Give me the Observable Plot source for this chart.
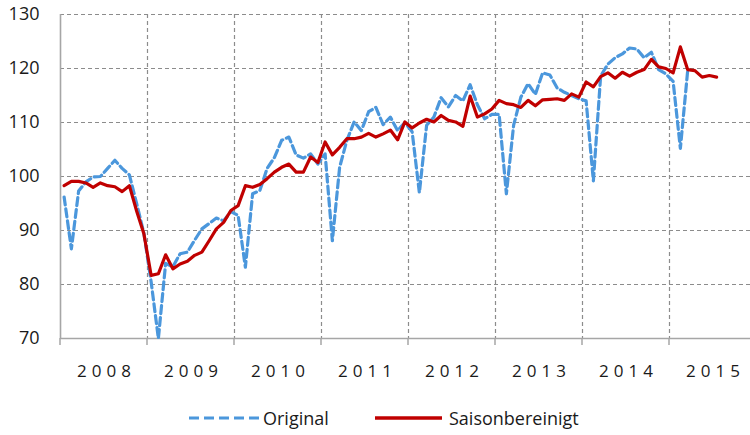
<!DOCTYPE html>
<html>
<head>
<meta charset="utf-8">
<script src="https://cdn.jsdelivr.net/npm/d3@7"></script>
<script src="https://cdn.jsdelivr.net/npm/@observablehq/plot@0.6"></script>
<style>
  html, body { margin: 0; padding: 0; background: #fff; }
  #chart svg { display: block; }
  #legend { position: relative; width: 750px; height: 40px; font-family: "Open Sans", sans-serif; font-size: 18px; color: #1a1a1a; }
  #legend .sw { position: absolute; top: 19px; }
  #legend .lb { position: absolute; top: 11px; line-height: 24px; }
</style>
</head>
<body>
<div id="chart"></div>
<div id="legend">
  <svg class="sw" style="left:188px" width="72" height="8"><line x1="1" y1="4" x2="71" y2="4" stroke="#4b97dc" stroke-width="3.2" stroke-dasharray="10,5"/></svg>
  <span class="lb" style="left:263px">Original</span>
  <svg class="sw" style="left:375px" width="68" height="8"><line x1="0" y1="4" x2="67" y2="4" stroke="#c00000" stroke-width="3.4"/></svg>
  <span class="lb" style="left:449px">Saisonbereinigt</span>
</div>
<script>
// Monthly series, starting January 2008
const startYear = 2008;
const years = [2008, 2009, 2010, 2011, 2012, 2013, 2014, 2015];
const yTicks = [70, 80, 90, 100, 110, 120, 130];

// Saisonbereinigt (Jan 2008 – Jul 2015)
const saisonbereinigt = [
  98.3, 99.1, 99.1, 98.8, 98.0, 98.8, 98.3, 98.1, 97.2, 98.3, 93.6, 89.4,
  81.7, 82.0, 85.5, 82.9, 83.8, 84.3, 85.4, 86.0, 88.1, 90.3, 91.5, 93.7,
  94.6, 98.3, 98.0, 98.5, 99.6, 100.8, 101.7, 102.3, 100.8, 100.8, 103.6, 102.6,
  106.4, 104.0, 105.4, 107.0, 107.0, 107.3, 108.0, 107.3, 107.9, 108.6, 106.8, 110.1,
  109.0, 109.9, 110.6, 110.1, 111.3, 110.4, 110.1, 109.3, 114.9, 111.0, 111.6, 112.5,
  114.1, 113.5, 113.3, 112.8, 114.1, 113.1, 114.2, 114.3, 114.4, 114.1, 115.3, 114.7,
  117.5, 116.6, 118.5, 119.2, 118.2, 119.3, 118.6, 119.3, 119.8, 121.7, 120.3, 120.0,
  119.2, 124.0, 119.8, 119.6, 118.4, 118.7, 118.4
];

// Original (Jan 2008 – Mar 2015)
const original = [
  96.2, 86.6, 97.3, 99.0, 99.9, 100.0, 101.5, 103.0, 101.5, 100.3, 95.0, 89.5,
  80.5, 70.0, 83.9, 83.3, 85.7, 86.0, 88.2, 90.3, 91.3, 92.3, 91.8, 93.5,
  92.8, 83.2, 96.8, 97.4, 101.5, 103.5, 106.7, 107.3, 104.0, 103.4, 104.2, 102.3,
  104.2, 88.1, 101.7, 106.7, 110.1, 108.5, 112.0, 112.8, 109.6, 111.0, 108.5, 110.0,
  108.3, 97.0, 109.5, 111.0, 114.6, 112.9, 115.0, 114.0, 117.0, 113.3, 110.7, 111.5,
  111.5, 96.8, 109.5, 114.7, 117.2, 115.2, 119.2, 118.8, 116.4, 115.6, 115.0, 114.4,
  114.0, 99.2, 118.6, 120.8, 122.0, 122.7, 123.8, 123.6, 122.0, 123.0, 119.8, 119.0,
  117.6, 105.2, 119.5
];

const toRows = (arr) => arr.map((v, i) => ({t: startYear + (i + 0.5) / 12, v}));
const saisonRows = toRows(saisonbereinigt);
const originalRows = toRows(original);

const gridStyle = {stroke: "#8c8c8c", strokeOpacity: 1, strokeDasharray: "4,3", strokeWidth: 1.2};

const chart = Plot.plot({
  width: 750,
  height: 395,
  marginLeft: 60,
  marginRight: 0,
  marginTop: 14,
  marginBottom: 57,
  style: {fontFamily: "'Open Sans', sans-serif", fontSize: "17px", color: "#1a1a1a", background: "white"},
  x: {type: "linear", domain: [2008, 2008 + 690 / 87], label: null, axis: null},
  y: {type: "linear", domain: [70, 130], label: null, axis: null},
  marks: [
    Plot.gridY(yTicks.slice(1), gridStyle),
    Plot.gridX(years.slice(1), gridStyle),
    Plot.ruleY([70], {stroke: "#a6a6a6", strokeWidth: 1.6}),
    Plot.ruleX([2008], {stroke: "#a6a6a6", strokeWidth: 1.6}),
    Plot.line(originalRows, {x: "t", y: "v", stroke: "#4b97dc", strokeWidth: 3.2, strokeDasharray: "8,4"}),
    Plot.line(saisonRows, {x: "t", y: "v", stroke: "#c00000", strokeWidth: 3.2}),
    Plot.text(yTicks, {y: d => d, frameAnchor: "left", dx: -21, textAnchor: "end", fontSize: 18, fill: "#1a1a1a"}),
    Plot.text(years, {x: d => d + 0.5, frameAnchor: "bottom", dy: 33, dx: 2.5, lineAnchor: "middle", fontSize: 17, fill: "#1a1a1a", text: d => String(d), ariaLabel: "year-label"})
  ]
});
document.getElementById("chart").appendChild(chart);

{
  const svg = d3.select(chart);
  // letter-spaced year labels
  svg.selectAll("text").filter(function () {
    return /^20\d\d$/.test(this.textContent);
  }).attr("letter-spacing", "5px").style("letter-spacing", "5px");
  // small downward tick marks under the x axis line at year boundaries
  const x = chart.scale("x");
  const y = chart.scale("y");
  const y0 = y.apply(70);
  svg.append("g").attr("aria-label", "x ticks")
    .selectAll("line").data(years).join("line")
    .attr("x1", d => x.apply(d)).attr("x2", d => x.apply(d))
    .attr("y1", y0).attr("y2", y0 + 7)
    .attr("stroke", "#a6a6a6").attr("stroke-width", 1.5);
}
</script>
</body>
</html>
